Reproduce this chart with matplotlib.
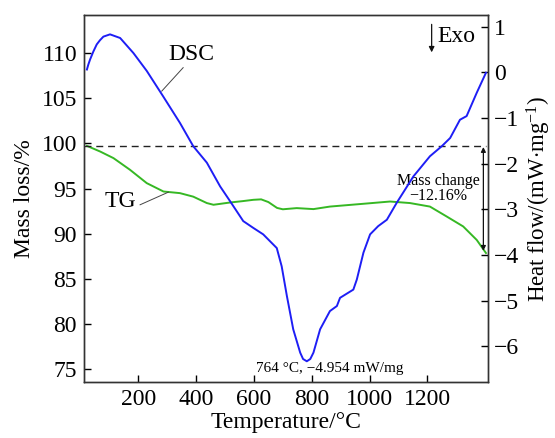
import matplotlib
matplotlib.use("Agg")
import matplotlib.pyplot as plt

plt.rcParams["font.family"] = ["Liberation Serif", "DejaVu Serif"]
plt.rcParams["mathtext.fontset"] = "custom"
plt.rcParams["mathtext.rm"] = "Liberation Serif"
plt.rcParams["mathtext.it"] = "Liberation Serif:italic"

# DSC heat flow (mW/mg) vs temperature (°C)
dsc_t = [22, 27, 33, 44, 56, 67, 79, 102, 137, 183, 229, 286, 344, 390, 437,
         483, 517, 563, 598, 632, 679, 696, 714, 736, 760, 770, 783, 795, 806,
         829, 863, 887, 898, 944, 956, 979, 1002, 1030, 1060, 1094, 1152,
         1209, 1250, 1279, 1313, 1336, 1371, 1403]
dsc_hf = [0.06, 0.17, 0.28, 0.45, 0.61, 0.70, 0.78, 0.83, 0.75, 0.42, 0.03,
          -0.53, -1.11, -1.62, -1.98, -2.50, -2.82, -3.26, -3.41, -3.55, -3.85,
          -4.25, -4.90, -5.63, -6.14, -6.28, -6.33, -6.28, -6.14, -5.63, -5.23,
          -5.12, -4.94, -4.76, -4.54, -3.95, -3.55, -3.37, -3.23, -2.86, -2.28,
          -1.84, -1.62, -1.44, -1.04, -0.96, -0.45, -0.01]

# TG mass (%) vs temperature (°C)
tg_t = [22, 68, 114, 171, 229, 287, 344, 390, 437, 460, 517, 560, 598, 625,
        650, 680, 700, 748, 806, 863, 979, 1071, 1140, 1209, 1267, 1324, 1371,
        1403]
tg_m = [99.73, 99.1, 98.37, 97.08, 95.6, 94.67, 94.49, 94.1, 93.39, 93.2,
        93.45, 93.6, 93.75, 93.8, 93.5, 92.85, 92.7, 92.83, 92.72, 93.0,
        93.31, 93.56, 93.39, 93.0, 91.9, 90.8, 89.3, 87.85]

initial_mass = 99.76
x_ticks = [200, 400, 600, 800, 1000, 1200]
left_ticks = [75, 80, 85, 90, 95, 100, 105, 110]
right_ticks = [-6, -5, -4, -3, -2, -1, 0, 1]

fig = plt.figure(figsize=(5.55, 4.38), dpi=100)
ax = fig.add_axes([0.1514, 0.1272, 0.7284, 0.8392])
ax2 = ax.twinx()

ax.plot(tg_t, tg_m, color="#36b824", lw=1.4)
ax.axhline(initial_mass, xmin=0, xmax=0.995, color="#222222", lw=1.0,
           ls=(0, (5, 3.5)))
ax2.plot(dsc_t, dsc_hf, color="#1e1ef5", lw=1.4)

ax.set_xlim(12, 1411)
ax.set_ylim(73.52, 114.27)
ax2.set_ylim(-6.79, 1.26)

ax.set_xticks(x_ticks)
ax.set_yticks(left_ticks)
ax2.set_yticks(right_ticks)
ax.tick_params(axis="both", direction="in", length=5, width=1.0,
               labelsize=17, pad=5)
ax2.tick_params(axis="y", direction="in", length=5, width=1.0,
                labelsize=17, pad=4)
for a in (ax, ax2):
    for s in a.spines.values():
        s.set_linewidth(1.0)
        s.set_color("#333333")

ax.set_xlabel("Temperature/°C", fontsize=17, labelpad=1)
ax.set_ylabel("Mass loss/%", fontsize=17, labelpad=5)
ax2.set_ylabel(r"Heat flow/(mW$\cdot$mg$^{-1}$)", fontsize=16.5, labelpad=4)

# curve labels with leader lines
ax.text(384, 109.9, "DSC", fontsize=17, ha="center", va="center")
ax.plot([355, 281], [108.4, 105.8], color="#444444", lw=0.7)
ax.text(137, 93.6, "TG", fontsize=17, ha="center", va="center")
ax.plot([206, 304], [93.2, 94.6], color="#444444", lw=0.7)

# exo direction
ax.annotate("", xy=(1215, 110.1), xytext=(1215, 113.2),
            arrowprops=dict(arrowstyle="-|>", color="#111111", lw=0.9,
                            mutation_scale=8, shrinkA=0, shrinkB=0))
ax.text(1236, 111.8, "Exo", fontsize=17, ha="left", va="center")

# mass change arrow
ax.annotate("", xy=(1394, 88.1), xytext=(1394, 99.6),
            arrowprops=dict(arrowstyle="<|-|>", color="#111111", lw=0.9,
                            mutation_scale=7, shrinkA=0, shrinkB=0))
ax.text(1238, 95.0, "Mass change\n\u221212.16%", fontsize=11.5,
        ha="center", va="center", linespacing=0.95)

ax.text(863, 75.0, "764 °C, \u22124.954 mW/mg", fontsize=11,
        ha="center", va="center")

fig.savefig("out.png", dpi=100)
